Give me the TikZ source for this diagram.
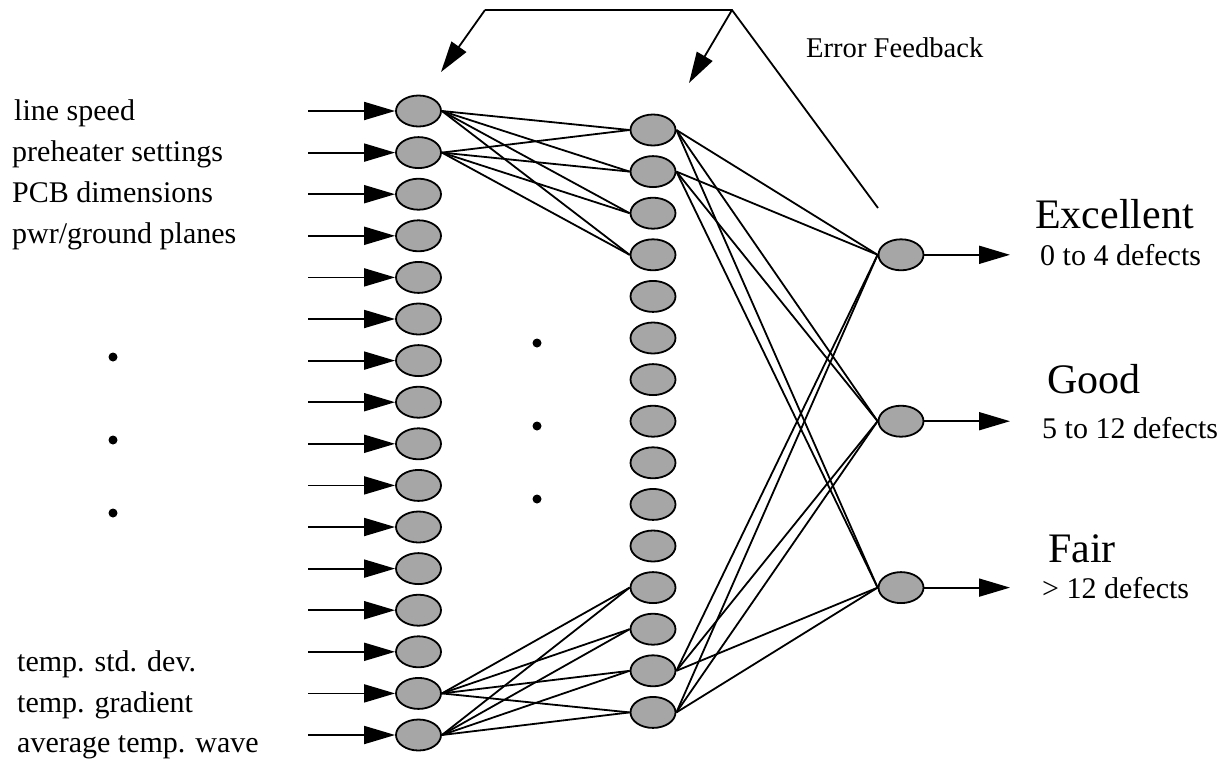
\documentclass[tikz,border=0pt]{standalone}
\usepackage{fontspec}
\setmainfont{Liberation Serif}
\usetikzlibrary{shapes.geometric,arrows.meta}

\begin{document}
\begin{tikzpicture}[x=1pt,y=-1pt]
  % overall canvas
  \useasboundingbox (0,0) rectangle (1220,764);

  % styles
  \tikzset{
    neuron/.style={ellipse,draw=black,fill=gray!70,line width=1.8pt,
      minimum width=45pt,minimum height=31pt,inner sep=0pt},
    wire/.style={draw=black,line width=1.8pt,line cap=butt,line join=miter},
    feed/.style={wire,-{Triangle[length=31pt,width=18pt]}},
    lbl/.style={font=\fontsize{30}{34}\selectfont,anchor=base west,inner sep=0pt},
    big/.style={font=\fontsize{42}{48}\selectfont,anchor=base west,inner sep=0pt},
  }

  % white background
  \fill[white] (0,0) rectangle (1220,764);

  % input layer
  \node[neuron] (in1)  at (418.5,111.0) {};
  \node[neuron] (in2)  at (418.5,152.6) {};
  \node[neuron] (in3)  at (418.5,194.2) {};
  \node[neuron] (in4)  at (418.5,235.8) {};
  \node[neuron] (in5)  at (418.5,277.4) {};
  \node[neuron] (in6)  at (418.5,319.0) {};
  \node[neuron] (in7)  at (418.5,360.6) {};
  \node[neuron] (in8)  at (418.5,402.2) {};
  \node[neuron] (in9)  at (418.5,443.8) {};
  \node[neuron] (in10) at (418.5,485.4) {};
  \node[neuron] (in11) at (418.5,527.0) {};
  \node[neuron] (in12) at (418.5,568.6) {};
  \node[neuron] (in13) at (418.5,610.2) {};
  \node[neuron] (in14) at (418.5,651.8) {};
  \node[neuron] (in15) at (418.5,693.4) {};
  \node[neuron] (in16) at (418.5,735.0) {};

  % hidden layer
  \node[neuron] (hid1)  at (653,130.0) {};
  \node[neuron] (hid2)  at (653,171.6) {};
  \node[neuron] (hid3)  at (653,213.2) {};
  \node[neuron] (hid4)  at (653,254.8) {};
  \node[neuron] (hid5)  at (653,296.4) {};
  \node[neuron] (hid6)  at (653,338.0) {};
  \node[neuron] (hid7)  at (653,379.6) {};
  \node[neuron] (hid8)  at (653,421.2) {};
  \node[neuron] (hid9)  at (653,462.8) {};
  \node[neuron] (hid10) at (653,504.4) {};
  \node[neuron] (hid11) at (653,546.0) {};
  \node[neuron] (hid12) at (653,587.6) {};
  \node[neuron] (hid13) at (653,629.2) {};
  \node[neuron] (hid14) at (653,670.8) {};
  \node[neuron] (hid15) at (653,712.4) {};

  % output layer
  \node[neuron] (out1) at (901,254.8) {};
  \node[neuron] (out2) at (901,421.2) {};
  \node[neuron] (out3) at (901,587.6) {};

  % free ends of the input arrows
  \coordinate (src1)  at (308,111.0);
  \coordinate (src2)  at (308,152.6);
  \coordinate (src3)  at (308,194.2);
  \coordinate (src4)  at (308,235.8);
  \coordinate (src5)  at (308,277.4);
  \coordinate (src6)  at (308,319.0);
  \coordinate (src7)  at (308,360.6);
  \coordinate (src8)  at (308,402.2);
  \coordinate (src9)  at (308,443.8);
  \coordinate (src10) at (308,485.4);
  \coordinate (src11) at (308,527.0);
  \coordinate (src12) at (308,568.6);
  \coordinate (src13) at (308,610.2);
  \coordinate (src14) at (308,651.8);
  \coordinate (src15) at (308,693.4);
  \coordinate (src16) at (308,735.0);

  % input arrows
  \draw[feed] (src1)  -- (in1.west);
  \draw[feed] (src2)  -- (in2.west);
  \draw[feed] (src3)  -- (in3.west);
  \draw[feed] (src4)  -- (in4.west);
  \draw[feed] (src5)  -- (in5.west);
  \draw[feed] (src6)  -- (in6.west);
  \draw[feed] (src7)  -- (in7.west);
  \draw[feed] (src8)  -- (in8.west);
  \draw[feed] (src9)  -- (in9.west);
  \draw[feed] (src10) -- (in10.west);
  \draw[feed] (src11) -- (in11.west);
  \draw[feed] (src12) -- (in12.west);
  \draw[feed] (src13) -- (in13.west);
  \draw[feed] (src14) -- (in14.west);
  \draw[feed] (src15) -- (in15.west);
  \draw[feed] (src16) -- (in16.west);

  % input -> hidden (top)
  \draw[wire] (in1.east) -- (hid1.west);
  \draw[wire] (in1.east) -- (hid2.west);
  \draw[wire] (in1.east) -- (hid3.west);
  \draw[wire] (in1.east) -- (hid4.west);
  \draw[wire] (in2.east) -- (hid1.west);
  \draw[wire] (in2.east) -- (hid2.west);
  \draw[wire] (in2.east) -- (hid3.west);
  \draw[wire] (in2.east) -- (hid4.west);

  % input -> hidden (bottom)
  \draw[wire] (in15.east) -- (hid12.west);
  \draw[wire] (in15.east) -- (hid13.west);
  \draw[wire] (in15.east) -- (hid14.west);
  \draw[wire] (in15.east) -- (hid15.west);
  \draw[wire] (in16.east) -- (hid12.west);
  \draw[wire] (in16.east) -- (hid13.west);
  \draw[wire] (in16.east) -- (hid14.west);
  \draw[wire] (in16.east) -- (hid15.west);

  % hidden -> output
  \draw[wire] (hid1.east)  -- (out1.west);
  \draw[wire] (hid1.east)  -- (out2.west);
  \draw[wire] (hid1.east)  -- (out3.west);
  \draw[wire] (hid2.east)  -- (out1.west);
  \draw[wire] (hid2.east)  -- (out2.west);
  \draw[wire] (hid2.east)  -- (out3.west);
  \draw[wire] (hid14.east) -- (out1.west);
  \draw[wire] (hid14.east) -- (out2.west);
  \draw[wire] (hid14.east) -- (out3.west);
  \draw[wire] (hid15.east) -- (out1.west);
  \draw[wire] (hid15.east) -- (out2.west);
  \draw[wire] (hid15.east) -- (out3.west);

  % output arrows
  \coordinate (dst1) at (1010,254.8);
  \coordinate (dst2) at (1010,421.2);
  \coordinate (dst3) at (1010,587.6);
  \draw[feed] (out1.east) -- (dst1);
  \draw[feed] (out2.east) -- (dst2);
  \draw[feed] (out3.east) -- (dst3);

  % error feedback
  \coordinate (fbA) at (485,10);
  \coordinate (fbB) at (732,10);
  \coordinate (fbC) at (878,208);
  \coordinate (fbTipA) at (441,72);
  \coordinate (fbTipB) at (689,83);
  \draw[wire] (fbC) -- (fbB) -- (fbA);
  \draw[feed] (fbA) -- (fbTipA);
  \draw[feed] (fbB) -- (fbTipB);

  % ellipsis dots
  \fill (113,357) circle[radius=4.5pt];
  \fill (113,440) circle[radius=4.5pt];
  \fill (113,513) circle[radius=4.5pt];
  \fill (537,343) circle[radius=4.5pt];
  \fill (537,426) circle[radius=4.5pt];
  \fill (537,499) circle[radius=4.5pt];

  % input labels
  \node[lbl] (lblSpeed)  at (14,120) {line speed};
  \node[lbl] (lblHeat)   at (12,161) {preheater settings};
  \node[lbl] (lblPcb)    at (12,202) {PCB dimensions};
  \node[lbl] (lblPlanes) at (12,243) {pwr/ground planes};
  \node[lbl] (lblStd)    at (17,671) {temp. std. dev.};
  \node[lbl] (lblGrad)   at (17,712) {temp. gradient};
  \node[lbl] (lblWave)   at (17,752) {average temp. wave};

  % output labels
  \node[lbl,font=\fontsize{28.6}{32}\selectfont] (lblErr) at (806,57) {Error Feedback};
  \node[big] (lblExc)  at (1035,228) {Excellent};
  \node[lbl] (lblExcN) at (1040,265) {0 to 4 defects};
  \node[big] (lblGood) at (1047,393) {Good};
  \node[lbl] (lblGoodN) at (1042,438) {5 to 12 defects};
  \node[big] (lblFair) at (1048,562) {Fair};
  \node[lbl] (lblFairN) at (1042,598) {> 12 defects};
\end{tikzpicture}
\end{document}
